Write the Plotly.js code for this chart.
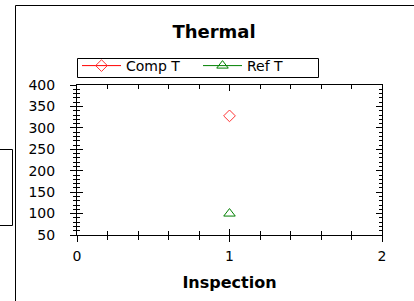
<!DOCTYPE html>
<html>
<head>
<meta charset="utf-8">
<script src="https://cdn.plot.ly/plotly-3.0.1.min.js"></script>
<style>
html,body{margin:0;padding:0;background:#fff;}
#chart{width:414px;height:301px;}
</style>
</head>
<body>
<div id="chart"></div>
<script>
// Data
const inspection = [1];
const compT = [328];
const refT = [100];
const seriesNames = ['Comp T', 'Ref T'];
const xTickVals = [0, 1, 2];
const yTickVals = [50, 100, 150, 200, 250, 300, 350, 400];

const FONT = 'DejaVu Sans, Arial, sans-serif';
const W = 414, H = 301;
const L = 77, R = 32, T = 85, B = 66;
const pw = W - L - R, ph = H - T - B;
const px = v => (v - L) / pw;
const py = v => (H - B - v) / ph;

const traces = [
  {
    x: inspection, y: compT, name: seriesNames[0], type: 'scatter', mode: 'lines+markers',
    line: {color: '#ff0000', width: 1},
    marker: {symbol: 'diamond-open', size: 9, color: '#ff3333', line: {width: 1}}
  },
  {
    x: inspection, y: refT, name: seriesNames[1], type: 'scatter', mode: 'lines+markers',
    line: {color: '#008000', width: 1},
    marker: {symbol: 'triangle-up-open', size: 10, color: '#008000', line: {width: 1}}
  },
  // empty trace so the overlay axes (crossing tick marks) are created
  {x: [], y: [], xaxis: 'x2', yaxis: 'y2', type: 'scatter', mode: 'markers', showlegend: false, hoverinfo: 'skip'}
];

const commonAx = {showgrid: false, zeroline: false, tickcolor: '#000', linecolor: '#000', linewidth: 1};

const layout = {
  width: W, height: H,
  margin: {l: L, r: R, t: T, b: B, pad: 0},
  paper_bgcolor: '#fff', plot_bgcolor: '#fff',
  font: {family: FONT, size: 14, color: '#000'},
  showlegend: true,
  title: {text: '<b>Thermal</b>', font: {family: FONT, size: 18, color: '#000'},
    x: 214 / W, xref: 'container', xanchor: 'center', y: 1 - 32 / H, yref: 'container', yanchor: 'middle'},
  legend: {orientation: 'h', x: 0, xanchor: 'left', y: py(50), yanchor: 'top',
    borderwidth: 0, bgcolor: 'rgba(0,0,0,0)',
    font: {family: FONT, size: 14, color: '#000'}, itemwidth: 39, entrywidth: 67},
  xaxis: Object.assign({}, commonAx, {
    range: [0, 2], autorange: false, tickvals: xTickVals, ticks: 'inside', ticklen: 6,
    showline: true, mirror: 'ticks', ticklabelstandoff: 8,
    minor: {dtick: 0.2, tick0: 0, ticks: 'inside', ticklen: 4, tickcolor: '#000', showgrid: false},
    tickfont: {family: FONT, size: 14, color: '#000'},
    title: {text: '<b>Inspection</b>', font: {family: FONT, size: 16, color: '#000'}, standoff: 14}
  }),
  xaxis2: Object.assign({}, commonAx, {
    overlaying: 'x', anchor: 'y', side: 'bottom', range: [0, 2], autorange: false,
    tickvals: xTickVals, ticks: 'outside', ticklen: 6, showticklabels: false, showline: false,
    minor: {dtick: 0.2, tick0: 0, ticks: 'outside', ticklen: 4, tickcolor: '#000', showgrid: false}
  }),
  yaxis: Object.assign({}, commonAx, {
    range: [50, 400], autorange: false, tickvals: yTickVals, ticks: 'inside', ticklen: 6,
    showline: true, mirror: 'ticks', ticklabelstandoff: 18,
    minor: {dtick: 10, tick0: 0, ticks: 'inside', ticklen: 3, tickcolor: '#000', showgrid: false},
    tickfont: {family: FONT, size: 14, color: '#000'}
  }),
  yaxis2: Object.assign({}, commonAx, {
    overlaying: 'y', anchor: 'x', side: 'left', range: [50, 400], autorange: false,
    tickvals: yTickVals, ticks: 'outside', ticklen: 6, showticklabels: false, showline: false,
    minor: {dtick: 10, tick0: 0, ticks: 'outside', ticklen: 3, tickcolor: '#000', showgrid: false}
  }),
  shapes: [
    {type: 'line', xref: 'paper', yref: 'paper', x0: px(15.5), x1: px(15.5), y0: py(5.5), y1: py(305), line: {color: '#000', width: 1}},
    {type: 'line', xref: 'paper', yref: 'paper', x0: px(15.5), x1: px(420), y0: py(5.5), y1: py(5.5), line: {color: '#000', width: 1}},
    {type: 'rect', xref: 'paper', yref: 'paper', x0: px(-2), x1: px(12.5), y0: py(149.5), y1: py(225.5), line: {color: '#000', width: 1}},
    // legend frame
    {type: 'rect', xref: 'paper', yref: 'paper', x0: px(77.5), x1: px(318.5), y0: py(58.5), y1: py(77.5), line: {color: '#000', width: 1}}
  ]
};

Plotly.newPlot('chart', traces, layout, {staticPlot: true, displayModeBar: false});
</script>
</body>
</html>
